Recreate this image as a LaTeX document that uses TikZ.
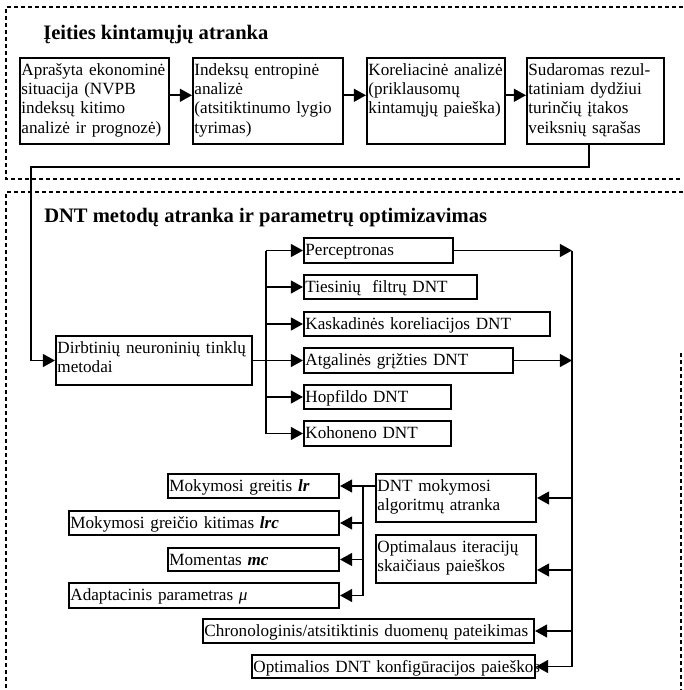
\documentclass[tikz,border=0pt]{standalone}
\usepackage{fontspec}
\setmainfont{Liberation Serif}
\usepackage{tikz}
\usetikzlibrary{arrows.meta}
\usepackage{xcolor}

\newcommand{\boxfont}{\fontsize{12}{13.4}\selectfont}
\newcommand{\headfont}{\fontsize{14.4}{17}\selectfont\bfseries}

\tikzset{
	box/.style={draw,line width=1.4pt,anchor=north west,align=left,inner xsep=1pt,inner ysep=1pt,text height=11.4pt,font=\boxfont},
	title/.style={anchor=base west,inner sep=0pt,font=\headfont},
	line/.style={line width=1.3pt},
	arr/.style={line width=1.3pt,-{Triangle[length=8.5pt,width=9pt]}},
	frame/.style={line width=1.1pt,dash pattern=on 2.8pt off 2.1pt}
}

\begin{document}
\begin{tikzpicture}[x=0.7pt,y=-0.7pt]
				\useasboundingbox (0,0) rectangle (683,690);
				\draw[frame] (683,7) -- (6,7) -- (6,179) -- (683,179);
				\draw[frame] (683,192) -- (6,192) -- (6,690);
				\draw[frame] (681,353) -- (681,690);
				
				\node(t1) at (43,40)[title]{Įeities kintamųjų atranka};
				\node(b1) at (19,57)[box,text width=102.3pt,text depth=46.8pt]{Aprašyta ekonominė\\situacija (NVPB\\indeksų kitimo\\analizė ir prognozė)};
				\node(b2) at (192,57)[box,text width=103pt,text depth=46.8pt]{Indeksų entropinė\\analizė\\(atsitiktinumo lygio\\tyrimas)};
				\node(b3) at (366,57)[box,text width=94.5pt,text depth=46.8pt]{Koreliacinė analizė\\(priklausomų\\kintamųjų paieška)};
				\node(b4) at (526,57)[box,text width=93.9pt,text depth=46.8pt]{Sudaromas rezul-\\tatiniam dydžiui\\turinčių įtakos\\veiksnių sąrašas};
				
				\node(t2) at (44,223)[title]{DNT metodų atranka ir parametrų optimizavimas};
				\node(dirb) at (55,335)[box,text width=135.2pt,text depth=20.9pt]{Dirbtinių neuroninių tinklų\\metodai};
				\node(perc) at (303,237)[box,text width=102.3pt,text depth=4.1pt]{Perceptronas};
				\node(ties) at (303,274)[box,text width=119.1pt,text depth=3.4pt]{Tiesinių~ filtrų DNT};
				\node(kask) at (303,311)[box,text width=170.2pt,text depth=3.4pt]{Kaskadinės koreliacijos DNT};
				\node(atg) at (303,347)[box,text width=144.3pt,text depth=4.1pt]{Atgalinės grįžties DNT};
				\node(hop) at (303,384)[box,text width=100.9pt,text depth=3.4pt]{Hopfildo DNT};
				\node(koh) at (303,420)[box,text width=100.9pt,text depth=4.1pt]{Kohoneno DNT};
				
				\node(mok) at (375,473)[box,text width=110pt,text depth=20.2pt]{DNT mokymosi\\algoritmų atranka};
				\node(opt) at (375,534)[box,text width=110pt,text depth=20.2pt]{Optimalaus iteracijų\\skaičiaus paieškos};
				\node(greit) at (167,473)[box,text width=117.7pt,text depth=3.4pt]{Mokymosi greitis \textbf{\textit{lr}}};
				\node(kit) at (68,510)[box,text width=187pt,text depth=3.4pt]{Mokymosi greičio kitimas \textbf{\textit{lrc}}};
				\node(mom) at (167,547)[box,text width=117.7pt,text depth=2.7pt]{Momentas \textbf{\textit{mc}}};
				\node(adapt) at (68,582)[box,text width=187pt,text depth=4.1pt]{Adaptacinis parametras \textit{μ}};
				\node(chron) at (202,618)[box,text width=229.7pt,text depth=3.4pt]{\mbox{Chronologinis/atsitiktinis duomenų pateikimas}};
				\node(optk) at (251,654)[box,text width=196.1pt,text depth=2.7pt]{\mbox{Optimalios DNT konfigūracijos paieškos}};
				
				\coordinate(turn) at (31,167);
				\coordinate(busl) at (266,0);
				\coordinate(busr) at (572,0);
				\coordinate(busm) at (363,0);
				\coordinate(optin) at (572,570);
				
				\draw[arr] ([yshift=4pt]b1.east) -- ([yshift=4pt]b2.west);
				\draw[arr] ([yshift=4pt]b2.east) -- ([yshift=4pt]b3.west);
				\draw[arr] ([yshift=4pt]b3.east) -- ([yshift=4pt]b4.west);
				\draw[arr] ([xshift=-4.5pt]b4.south) |- (turn) |- (dirb.west);
				
				\draw[line] (dirb.east) -- (dirb.east -| busl);
				\draw[line] (busl |- perc) -- (busl |- koh);
				\foreach \m in {perc,ties,kask,atg,hop,koh}
					\draw[arr] (busl |- \m) -- (\m.west);
				
				\draw[line] (busr |- perc) -- (busr |- optk);
				\draw[arr] (perc.east) -- (busr |- perc);
				\draw[arr] (atg.east) -- (busr |- atg);
				\draw[arr] (busr |- mok) -- (mok.east);
				\draw[arr] (optin) -- (optin -| opt.east);
				\draw[arr] (busr |- chron) -- (chron.east);
				\draw[arr] (busr |- optk) -- (optk.east);
				
				\draw[arr] (mok.west |- greit) -- (greit.east);
				\draw[line] (busm |- greit) -- (busm |- adapt);
				\foreach \m in {kit,mom,adapt}
					\draw[arr] (busm |- \m) -- (\m.east);
			\end{tikzpicture}
\end{document}
